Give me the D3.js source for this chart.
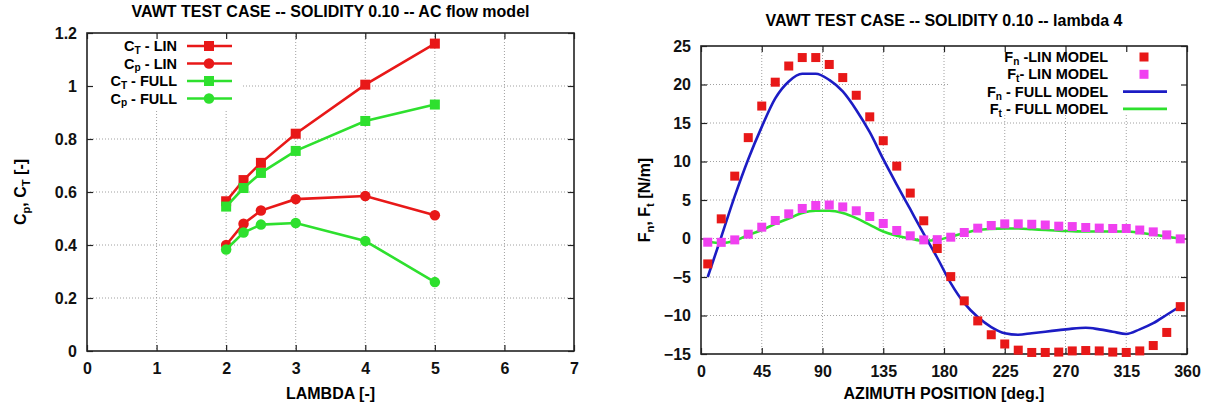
<!DOCTYPE html>
<html>
<head>
<meta charset="utf-8">
<script src="https://cdn.jsdelivr.net/npm/d3@7"></script>
<style>
  body { margin: 0; background: #fff; }
  svg { font-family: "Liberation Sans", Arial, sans-serif; font-weight: bold; }
</style>
</head>
<body>
<script>
// left panel: coefficients vs tip speed ratio
const lambda = [2, 2.25, 2.5, 3, 4, 5];
const ctLin = [0.565, 0.645, 0.71, 0.82, 1.005, 1.16];
const cpLin = [0.40, 0.48, 0.53, 0.573, 0.585, 0.512];
const ctFull = [0.545, 0.615, 0.672, 0.755, 0.868, 0.93];
const cpFull = [0.383, 0.447, 0.477, 0.483, 0.415, 0.26];

// right panel: blade loads vs azimuth
const azimuth = [5, 15, 25, 35, 45, 55, 65, 75, 85, 95, 105, 115, 125, 135, 145, 155, 165, 175,
                 185, 195, 205, 215, 225, 235, 245, 255, 265, 275, 285, 295, 305, 315, 325, 335, 345, 355];
const fnLin = [-3.3, 2.55, 8.1, 13.1, 17.2, 20.3, 22.4, 23.5, 23.5, 22.6, 20.9, 18.6, 15.8, 12.7, 9.4, 5.9, 2.3, -1.3,
               -4.95, -8.1, -10.7, -12.5, -13.7, -14.5, -14.8, -14.8, -14.75, -14.6, -14.55, -14.6, -14.75, -14.8, -14.6, -13.9, -12.2, -8.85];
const ftLin = [-0.48, -0.5, -0.18, 0.56, 1.47, 2.34, 3.2, 3.9, 4.29, 4.35, 4.1, 3.6, 2.86, 1.95, 1.04, 0.35, -0.18, -0.15,
               0.17, 0.78, 1.34, 1.69, 1.9, 1.9, 1.85, 1.75, 1.6, 1.55, 1.43, 1.35, 1.3, 1.3, 1.1, 0.86, 0.47, -0.05];
const fnFull = [-5.0, 0.2, 5.5, 10.3, 14.5, 18.2, 20.4, 21.4, 21.4, 20.6, 19.1, 16.7, 13.8, 10.3, 7.0, 3.8, 0.6, -2.5,
                -5.8, -8.4, -10.2, -11.5, -12.3, -12.5, -12.3, -12.1, -11.9, -11.7, -11.6, -11.8, -12.1, -12.4, -11.8, -11.0, -9.9, -8.8];
const ftFull = [-0.4, -0.6, -0.3, 0.45, 1.1, 1.9, 2.6, 3.3, 3.6, 3.6, 3.3, 2.64, 1.77, 0.9, 0.35, 0.0, -0.3, -0.2,
                0.25, 0.7, 1.1, 1.25, 1.3, 1.3, 1.2, 1.1, 1.0, 0.95, 0.9, 0.9, 0.9, 0.9, 0.75, 0.5, 0.25, -0.05];

const lambdaTicks = [0, 1, 2, 3, 4, 5, 6, 7];
const coefTicks = [0, 0.2, 0.4, 0.6, 0.8, 1, 1.2];
const azTicks = [0, 45, 90, 135, 180, 225, 270, 315, 360];
const forceTicks = [-15, -10, -5, 0, 5, 10, 15, 20, 25];

const RED = "#e81818", GREEN = "#2ee02e", BLUE = "#1c1cc4", MAGENTA = "#f040f0";

const svg = d3.select("body").append("svg")
  .attr("width", 1211).attr("height", 412);

// text with gnuplot-like subscripts: parts = [[text, isSub], ...]
function richText(g, parts, size, shift = 0.25) {
  const t = g.append("text").attr("font-size", size);
  let shifted = false;
  parts.forEach(([s, sub]) => {
    const ts = t.append("tspan").text(s);
    if (sub && !shifted) { ts.attr("dy", size * shift).attr("font-size", size * 0.7); shifted = true; }
    else if (!sub && shifted) { ts.attr("dy", -size * shift); shifted = false; }
    else if (sub) ts.attr("font-size", size * 0.7);
  });
  return t;
}

function panel(o) {
  const g = svg.append("g");
  const x = d3.scaleLinear().domain(o.xDomain).range([o.left, o.right]);
  const y = d3.scaleLinear().domain(o.yDomain).range([o.bottom, o.top]);

  // dotted grid
  g.append("g").selectAll("line").data(o.xTicks.slice(1, -1)).join("line")
    .attr("x1", d => x(d)).attr("x2", d => x(d)).attr("y1", o.top).attr("y2", o.bottom)
    .attr("stroke", "#a0a0a0").attr("stroke-width", 1).attr("stroke-dasharray", "1,2");
  g.append("g").selectAll("line").data(o.yTicks.slice(1, -1)).join("line")
    .attr("x1", o.left).attr("x2", o.right).attr("y1", d => y(d)).attr("y2", d => y(d))
    .attr("stroke", "#a0a0a0").attr("stroke-width", 1).attr("stroke-dasharray", "1,2");

  // opaque key area hides the grid
  g.append("rect").attr("x", o.keyBox[0]).attr("y", o.keyBox[1])
    .attr("width", o.keyBox[2] - o.keyBox[0]).attr("height", o.keyBox[3] - o.keyBox[1])
    .attr("fill", "#fff");

  // axes with inward ticks, mirrored
  const fmt = d3.format("~g");
  const ax = (a) => a.tickSizeInner(-6).tickSizeOuter(0);
  g.append("g").attr("transform", `translate(0,${o.bottom})`)
    .call(ax(d3.axisBottom(x).tickValues(o.xTicks).tickPadding(11.5).tickFormat(fmt)));
  g.append("g").attr("transform", `translate(0,${o.top})`)
    .call(ax(d3.axisTop(x).tickValues(o.xTicks).tickFormat("")));
  g.append("g").attr("transform", `translate(${o.left},0)`)
    .call(ax(d3.axisLeft(y).tickValues(o.yTicks).tickPadding(10).tickFormat(fmt)));
  g.append("g").attr("transform", `translate(${o.right},0)`)
    .call(ax(d3.axisRight(y).tickValues(o.yTicks).tickFormat("")));
  g.selectAll(".domain").remove();
  g.selectAll(".tick line").attr("stroke", "#222").attr("stroke-width", 1.2);
  g.selectAll(".tick text").attr("font-size", 16).attr("font-family", null).attr("fill", "#111");

  g.append("rect").attr("x", o.left).attr("y", o.top)
    .attr("width", o.right - o.left).attr("height", o.bottom - o.top)
    .attr("fill", "none").attr("stroke", "#222").attr("stroke-width", 1.6);

  // titles
  g.append("text").attr("x", (o.left + o.right) / 2).attr("y", o.titleY)
    .attr("text-anchor", "middle").attr("font-size", 16).text(o.title);
  g.append("text").attr("x", (o.left + o.right) / 2).attr("y", 399)
    .attr("text-anchor", "middle").attr("font-size", 16).text(o.xLabel);
  richText(g, o.yLabel, 16).attr("text-anchor", "middle")
    .attr("transform", `translate(${o.yLabelX},${(o.top + o.bottom) / 2}) rotate(-90)`);

  return { g, x, y };
}

// ---------- left panel ----------
const L = panel({
  left: 87, right: 574, top: 33, bottom: 351,
  xDomain: [0, 7], yDomain: [0, 1.2],
  xTicks: lambdaTicks, yTicks: coefTicks,
  keyBox: [88, 34, 242, 110],
  title: "VAWT TEST CASE -- SOLIDITY 0.10 -- AC flow model", titleY: 17,
  xLabel: "LAMBDA [-]",
  yLabel: [["C", false], ["p", true], [", C", false], ["T", true], [" [-]", false]], yLabelX: 26
});

const leftSeries = [
  { vals: ctLin, color: RED, shape: "square", label: [["C", false], ["T", true], [" - LIN", false]] },
  { vals: cpLin, color: RED, shape: "circle", label: [["C", false], ["p", true], [" - LIN", false]] },
  { vals: ctFull, color: GREEN, shape: "square", label: [["C", false], ["T", true], [" - FULL", false]] },
  { vals: cpFull, color: GREEN, shape: "circle", label: [["C", false], ["p", true], [" - FULL", false]] }
];

function marker(g, shape, cx, cy, color, size) {
  if (shape === "square") {
    g.append("rect").attr("x", cx - size / 2).attr("y", cy - size / 2)
      .attr("width", size).attr("height", size).attr("fill", color);
  } else {
    g.append("circle").attr("cx", cx).attr("cy", cy).attr("r", size / 2).attr("fill", color);
  }
}

const lineL = d3.line().x((d, i) => L.x(lambda[i])).y(d => L.y(d));
leftSeries.forEach((s, k) => {
  L.g.append("path").attr("d", lineL(s.vals)).attr("fill", "none")
    .attr("stroke", s.color).attr("stroke-width", 2.6);
  s.vals.forEach((v, i) => marker(L.g, s.shape, L.x(lambda[i]), L.y(v), s.color, s.shape === "square" ? 10 : 10.5));
  const ry = 46 + k * 17.5;
  richText(L.g, s.label, 14.5, 0.2).attr("x", 177).attr("y", ry + 5).attr("text-anchor", "end");
  L.g.append("line").attr("x1", 187).attr("x2", 232).attr("y1", ry).attr("y2", ry)
    .attr("stroke", s.color).attr("stroke-width", 2.6);
  marker(L.g, s.shape, 209, ry, s.color, s.shape === "square" ? 10 : 10.5);
});

// ---------- right panel ----------
const R = panel({
  left: 701, right: 1187, top: 46, bottom: 354,
  xDomain: [0, 360], yDomain: [-15, 25],
  xTicks: azTicks, yTicks: forceTicks,
  keyBox: [950, 47, 1185, 115],
  title: "VAWT TEST CASE -- SOLIDITY 0.10 -- lambda 4", titleY: 26,
  xLabel: "AZIMUTH POSITION [deg.]",
  yLabel: [["F", false], ["n", true], [", F", false], ["t", true], [" [N/m]", false]], yLabelX: 650
});

const lineR = d3.line().x((d, i) => R.x(azimuth[i])).y(d => R.y(d)).curve(d3.curveMonotoneX);
R.g.append("path").attr("d", lineR(ftFull)).attr("fill", "none")
  .attr("stroke", GREEN).attr("stroke-width", 2.6);
R.g.append("path").attr("d", lineR(fnFull)).attr("fill", "none")
  .attr("stroke", BLUE).attr("stroke-width", 2.6);
R.g.append("g").selectAll("rect").data(ftLin).join("rect")
  .attr("x", (d, i) => R.x(azimuth[i]) - 4.5).attr("y", d => R.y(d) - 4.5)
  .attr("width", 9).attr("height", 9).attr("fill", MAGENTA);
R.g.append("g").selectAll("rect").data(fnLin).join("rect")
  .attr("x", (d, i) => R.x(azimuth[i]) - 4.5).attr("y", d => R.y(d) - 4.5)
  .attr("width", 9).attr("height", 9).attr("fill", RED);

const rightKey = [
  { label: [["F", false], ["n", true], [" -LIN MODEL", false]], color: RED, kind: "pt" },
  { label: [["F", false], ["t", true], ["- LIN MODEL", false]], color: MAGENTA, kind: "pt" },
  { label: [["F", false], ["n", true], [" - FULL MODEL", false]], color: BLUE, kind: "ln" },
  { label: [["F", false], ["t", true], [" - FULL MODEL", false]], color: GREEN, kind: "ln" }
];
rightKey.forEach((k, i) => {
  const ry = 57 + i * 17.3;
  richText(R.g, k.label, 14.5, 0.2).attr("x", 1108).attr("y", ry + 5).attr("text-anchor", "end");
  if (k.kind === "pt") {
    R.g.append("rect").attr("x", 1144 - 4.5).attr("y", ry - 4.5).attr("width", 9).attr("height", 9).attr("fill", k.color);
  } else {
    R.g.append("line").attr("x1", 1123).attr("x2", 1167).attr("y1", ry).attr("y2", ry)
      .attr("stroke", k.color).attr("stroke-width", 2.6);
  }
});
</script>
</body>
</html>
